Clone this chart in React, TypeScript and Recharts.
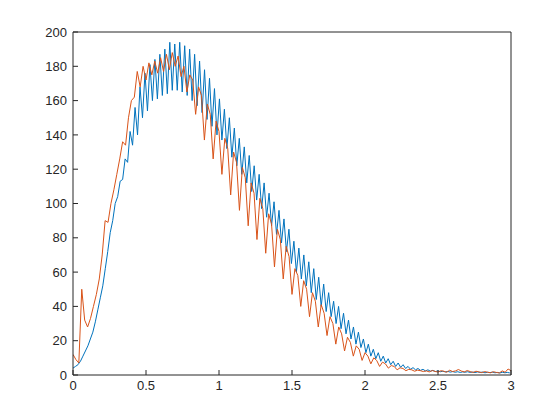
import React from 'react';
import { LineChart, Line, XAxis, YAxis } from 'recharts';

// sample spacing of the two traces
const blueStep = 0.017;
const orangeStep = 0.02;

const blueValues = [
  4, 5, 6, 8, 11, 14, 17, 21, 25, 31, 38, 45, 52, 62, 72, 83, 90, 100, 104, 113,
  114, 126, 124, 142, 134, 156, 140, 168, 150, 176, 154, 181, 160, 184, 161, 187, 163, 190, 164, 194,
  166, 193, 166, 194, 165, 192, 163, 190, 160, 187, 157, 183, 153, 178, 149, 173, 145, 167, 140, 161,
  137, 155, 132, 150, 127, 144, 122, 138, 117, 133, 112, 128, 107, 122, 102, 117, 97, 112, 92, 106,
  87, 101, 82, 96, 77, 91, 72, 85, 65, 78, 60, 74, 56, 70, 52, 66, 48, 62, 44, 57,
  40, 53, 37, 48, 34, 43, 30, 40, 27, 36, 24, 32, 21, 28, 18, 25, 16, 21, 13, 18,
  11, 15, 9.5, 13, 8, 11, 7, 9.5, 6, 8, 5, 7, 4.5, 6, 3.8, 5, 3.3, 4.3, 3, 3.8,
  2.7, 3.3, 2.4, 3, 2.2, 2.7, 2, 2.4, 1.9, 2.2,
  1.8, 2.1, 1.7, 2.0, 1.6, 1.9, 1.5, 1.8, 1.6, 1.9, 1.5, 1.7, 1.4, 1.8, 1.5, 1.7, 1.3, 1.6, 1.4, 1.7,
  1.3, 1.5, 1.2, 1.6, 1.3, 1.5, 1.2,
];

const orangeValues = [
  12, 9, 7, 50, 32, 28, 33, 40, 47, 56, 70, 90, 89, 100, 108, 117, 126, 136, 134, 150,
  160, 162, 177, 168, 180, 172, 182, 175, 183, 176, 185, 177, 187, 178, 188, 180, 186, 174, 180, 165,
  175, 172, 152, 168, 163, 137, 158, 152, 126, 148, 142, 117, 138, 132, 105, 130, 124, 96, 121, 115,
  87, 112, 106, 79, 103, 97, 71, 94, 88, 63, 85, 79, 56, 75, 69, 47, 62, 58, 40, 55,
  50, 34, 48, 43, 28, 41, 36, 23, 34, 30, 18, 28, 24, 14, 22, 19, 11, 17, 15, 8.5,
  13, 11, 6.5, 10, 8.5, 5, 7.5, 6.5, 4, 5.5, 5, 3, 4.2, 3.8, 2.5, 3.3, 3, 2.2, 2.8, 2.5,
  2, 2.4, 1.8, 2.6, 2.1, 1.7, 2.5, 2.2, 1.6, 2.8, 2.0, 2.4, 3.2, 2.3, 1.8, 2.6, 2.0, 1.5, 2.2, 1.8,
  1.4, 2.0, 1.6, 1.3, 1.9, 1.5, 1.2, 2.4, 1.6, 3.5, 2.5,
];

const xTicks = [0, 0.5, 1, 1.5, 2, 2.5, 3];
const yTicks = [0, 20, 40, 60, 80, 100, 120, 140, 160, 180, 200];

const blueData = blueValues.map((y, i) => ({ x: i * blueStep, y }));
const orangeData = orangeValues.map((y, i) => ({ x: i * orangeStep, y }));

const axisColor = '#262626';
const tickFont = { fontFamily: 'Liberation Sans, Arial, sans-serif', fontSize: 13, fill: axisColor };

export default function App() {
  return (
    <div style={{ background: '#fff' }}>
      <LineChart
        width={552}
        height={412}
        margin={{ top: 0, right: 0, bottom: 0, left: 0 }}
      >
        <XAxis
          xAxisId="bottom"
          dataKey="x"
          type="number"
          domain={[0, 3]}
          ticks={xTicks}
          height={45}
          stroke={axisColor}
          tickSize={-5}
          tickMargin={11}
          tick={tickFont}
          allowDataOverflow
        />
        <XAxis
          xAxisId="top"
          orientation="top"
          dataKey="x"
          type="number"
          domain={[0, 3]}
          ticks={xTicks}
          height={24}
          stroke={axisColor}
          tickSize={-5}
          tick={false}
        />
        <YAxis
          yAxisId="left"
          type="number"
          domain={[0, 200]}
          ticks={yTicks}
          width={65}
          stroke={axisColor}
          tickSize={-5}
          tickMargin={11}
          tick={tickFont}
          allowDataOverflow
        />
        <YAxis
          yAxisId="right"
          orientation="right"
          type="number"
          domain={[0, 200]}
          ticks={yTicks}
          width={49}
          stroke={axisColor}
          tickSize={-5}
          tick={false}
        />
        <Line
          xAxisId="bottom"
          yAxisId="left"
          data={blueData}
          dataKey="y"
          type="linear"
          stroke="#0072BD"
          strokeWidth={1}
          dot={false}
          isAnimationActive={false}
        />
        <Line
          xAxisId="bottom"
          yAxisId="left"
          data={orangeData}
          dataKey="y"
          type="linear"
          stroke="#D95319"
          strokeWidth={1}
          dot={false}
          isAnimationActive={false}
        />
      </LineChart>
    </div>
  );
}
